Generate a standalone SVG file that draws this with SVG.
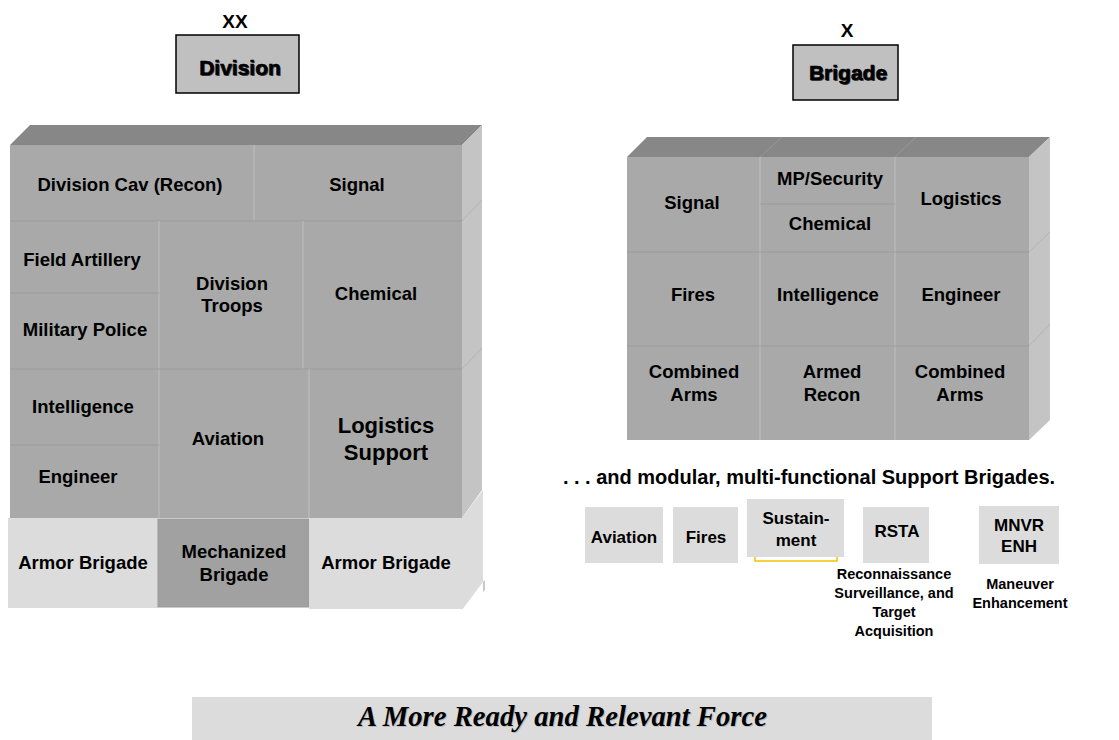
<svg xmlns="http://www.w3.org/2000/svg" width="1119" height="740" viewBox="0 0 1119 740">
<style>
text{font-family:"Liberation Sans",Arial,sans-serif;font-weight:bold;fill:#000;text-anchor:middle}
.c{fill:#a9a9a9}
.top{fill:#878787}
.side{fill:#c4c4c4}
.lt{fill:#dcdcdc}
.hl{stroke:#9b9b9b;stroke-width:1.2;fill:none}
.vl{stroke:#bdbdbd;stroke-width:1.2;fill:none}
.sl{stroke:#b4b4b4;stroke-width:1;fill:none}
.t19{font-size:18.5px}
.t22{font-size:22px}
.t17{font-size:17px}
.t14{font-size:14.5px}
.hdr{fill:#c0c0c0;stroke:#000;stroke-width:1.5}
.ht{font-size:21px;stroke:#000;stroke-width:0.6}
.hs{font-size:21px;fill:#444}
.ban{font-family:"Liberation Serif","Times New Roman",serif;font-style:italic;font-size:30px}
</style>
<rect width="1119" height="740" fill="#fff"/>

<g id="division-header">
<text x="235" y="28" font-size="19">XX</text>
<rect class="hdr" x="176" y="35" width="123" height="58"/>
<text class="hs" x="241" y="76">Division</text>
<text class="ht" x="240" y="75">Division</text>
</g>

<g id="brigade-header">
<text x="847" y="37" font-size="19">X</text>
<rect class="hdr" x="793" y="45" width="105" height="55"/>
<text class="hs" x="849" y="81">Brigade</text>
<text class="ht" x="848" y="80">Brigade</text>
</g>

<g id="division-block">
<polygon class="top" points="10,145 30,125 482,125 462,145"/>
<polygon class="side" points="462,145 482,125 482,490 462,518"/>
<line class="sl" x1="462" y1="221" x2="482" y2="200"/>
<line class="sl" x1="462" y1="369" x2="482" y2="348"/>
<polygon class="lt" points="462,518 483,490 483,582 462,610"/>
<polygon fill="#c8c8c8" points="483,582 485,580 485,590 483,592"/>
<rect class="c" x="10" y="145" width="452" height="373"/>
<line class="vl" x1="254" y1="145" x2="254" y2="221"/>
<line class="hl" x1="10" y1="221" x2="462" y2="221"/>
<line class="vl" x1="159" y1="221" x2="159" y2="518"/>
<line class="vl" x1="303" y1="221" x2="303" y2="369"/>
<line class="hl" x1="10" y1="293" x2="159" y2="293"/>
<line class="hl" x1="10" y1="369" x2="462" y2="369"/>
<line class="vl" x1="309" y1="369" x2="309" y2="518"/>
<line class="hl" x1="10" y1="445" x2="159" y2="445"/>
<rect class="lt" x="8" y="518" width="150" height="90"/>
<rect fill="#a1a1a1" stroke="#999" stroke-width="1" x="158" y="519" width="151" height="88"/>
<rect class="lt" x="309" y="518" width="153" height="91"/>
</g>

<g id="div-cav"><text class="t19" x="130" y="191">Division Cav (Recon)</text></g>
<g id="div-signal"><text class="t19" x="357" y="191">Signal</text></g>
<g id="div-field-artillery"><text class="t19" x="82" y="266">Field Artillery</text></g>
<g id="div-military-police"><text class="t19" x="85" y="336">Military Police</text></g>
<g id="div-troops"><text class="t19" x="232" y="290">Division</text><text class="t19" x="232" y="312">Troops</text></g>
<g id="div-chemical"><text class="t19" x="376" y="300">Chemical</text></g>
<g id="div-intelligence"><text class="t19" x="83" y="413">Intelligence</text></g>
<g id="div-engineer"><text class="t19" x="78" y="483">Engineer</text></g>
<g id="div-aviation"><text class="t19" x="228" y="445">Aviation</text></g>
<g id="div-logistics"><text class="t22" x="386" y="433">Logistics</text><text class="t22" x="386" y="460">Support</text></g>
<g id="div-armor-left"><text class="t19" x="83" y="569">Armor Brigade</text></g>
<g id="div-mechanized"><text class="t19" x="234" y="558">Mechanized</text><text class="t19" x="234" y="581">Brigade</text></g>
<g id="div-armor-right"><text class="t19" x="386" y="569">Armor Brigade</text></g>

<g id="brigade-block">
<polygon class="top" points="627,157 647,137 1050,137 1029,157"/>
<line stroke="#979797" stroke-width="1" x1="760" y1="157" x2="782" y2="137"/>
<line stroke="#979797" stroke-width="1" x1="895" y1="157" x2="916" y2="137"/>
<polygon class="side" points="1029,157 1050,137 1050,420 1029,440"/>
<line class="sl" x1="1029" y1="252" x2="1050" y2="232"/>
<line class="sl" x1="1029" y1="346" x2="1050" y2="324"/>
<rect class="c" x="627" y="157" width="402" height="283"/>
<line class="vl" x1="760" y1="157" x2="760" y2="440"/>
<line class="vl" x1="895" y1="157" x2="895" y2="440"/>
<line class="hl" x1="760" y1="204" x2="895" y2="204"/>
<line class="hl" x1="627" y1="252" x2="1029" y2="252"/>
<line class="hl" x1="627" y1="346" x2="1029" y2="346"/>
</g>

<g id="bde-signal"><text class="t19" x="692" y="209">Signal</text></g>
<g id="bde-mp"><text class="t19" x="830" y="185">MP/Security</text></g>
<g id="bde-chemical"><text class="t19" x="830" y="230">Chemical</text></g>
<g id="bde-logistics"><text class="t19" x="961" y="205">Logistics</text></g>
<g id="bde-fires"><text class="t19" x="693" y="301">Fires</text></g>
<g id="bde-intelligence"><text class="t19" x="828" y="301">Intelligence</text></g>
<g id="bde-engineer"><text class="t19" x="961" y="301">Engineer</text></g>
<g id="bde-combined-left"><text class="t19" x="694" y="378">Combined</text><text class="t19" x="694" y="401">Arms</text></g>
<g id="bde-armed-recon"><text class="t19" x="832" y="378">Armed</text><text class="t19" x="832" y="401">Recon</text></g>
<g id="bde-combined-right"><text class="t19" x="960" y="378">Combined</text><text class="t19" x="960" y="401">Arms</text></g>

<g id="support-title"><text x="809" y="484" font-size="20">. . . and modular, multi-functional Support Brigades.</text></g>

<g id="sup-aviation"><rect class="lt" x="585" y="507" width="78" height="56"/><text class="t17" x="624" y="543">Aviation</text></g>
<g id="sup-fires"><rect class="lt" x="673" y="507" width="65" height="56"/><text class="t17" x="706" y="543">Fires</text></g>
<g id="sup-sustainment">
<rect x="755" y="505" width="82" height="56" fill="#fff" stroke="#f2c200" stroke-width="1.5"/>
<rect class="lt" x="747" y="499" width="97" height="58"/>
<text class="t17" x="796" y="524">Sustain-</text><text class="t17" x="796" y="546">ment</text>
</g>
<g id="sup-rsta">
<rect class="lt" x="863" y="507" width="66" height="56"/><text class="t17" x="897" y="537">RSTA</text>
<text class="t14" x="894" y="579">Reconnaissance</text>
<text class="t14" x="894" y="598">Surveillance, and</text>
<text class="t14" x="894" y="617">Target</text>
<text class="t14" x="894" y="636">Acquisition</text>
</g>
<g id="sup-mnvr">
<rect class="lt" x="979" y="506" width="80" height="58"/><text class="t17" x="1019" y="531">MNVR</text><text class="t17" x="1019" y="552">ENH</text>
<text class="t14" x="1020" y="589">Maneuver</text>
<text class="t14" x="1020" y="608">Enhancement</text>
</g>

<g id="banner">
<rect class="lt" x="192" y="697" width="740" height="43"/>
<text class="ban" x="563.5" y="726.5" fill="#b8b8b8" style="fill:#b8b8b8" textLength="409" lengthAdjust="spacingAndGlyphs">A More Ready and Relevant Force</text>
<text class="ban" x="562.5" y="725.5" textLength="409" lengthAdjust="spacingAndGlyphs">A More Ready and Relevant Force</text>
</g>

<g id="connectors"/>
</svg>
